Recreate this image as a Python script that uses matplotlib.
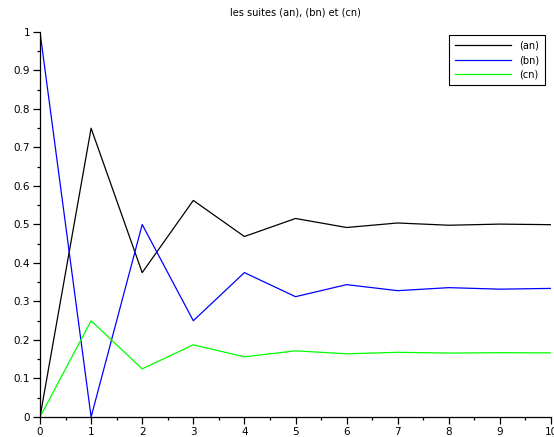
import numpy as np
import matplotlib
matplotlib.use("Agg")
import matplotlib.pyplot as plt
from matplotlib.ticker import MultipleLocator

n = list(range(11))
an = [0, 0.75, 0.375, 0.5625, 0.46875, 0.515625, 0.4921875, 0.50390625,
      0.498046875, 0.5009765625, 0.49951171875]
bn = [1, 0, 0.5, 0.25, 0.375, 0.3125, 0.34375, 0.328125,
      0.3359375, 0.33203125, 0.333984375]
cn = [0, 0.25, 0.125, 0.1875, 0.15625, 0.171875, 0.1640625, 0.16796875,
      0.166015625, 0.1669921875, 0.16650390625]

fig = plt.figure(figsize=(5.54, 4.37), dpi=100)
ax = fig.add_axes([0.0722, 0.0458, 0.9224, 0.881])

ax.plot(n, an, color="black", lw=0.9, label="(an)")
ax.plot(n, bn, color="#0000ff", lw=0.9, label="(bn)")
ax.plot(n, cn, color="#00ff00", lw=0.9, label="(cn)")

ax.set_xlim(0, 10)
ax.set_ylim(0, 1)
ax.xaxis.set_major_locator(MultipleLocator(1))
ax.xaxis.set_minor_locator(MultipleLocator(0.5))
ax.yaxis.set_major_locator(MultipleLocator(0.1))
ax.yaxis.set_minor_locator(MultipleLocator(0.05))
ax.yaxis.set_major_formatter(plt.FuncFormatter(lambda v, p: "%g" % round(v, 2)))

for s in ["top", "right"]:
    ax.spines[s].set_visible(False)
for s in ["left", "bottom"]:
    ax.spines[s].set_linewidth(0.9)
ax.tick_params(which="major", length=5, width=0.9, labelsize=7.5, pad=2)
ax.tick_params(which="minor", length=2.5, width=0.9)

ax.set_title("les suites (an), (bn) et (cn)", fontsize=7, pad=12)

leg = ax.legend(loc="upper right", bbox_to_anchor=(0.988, 0.992), fontsize=7,
                handlelength=5.8, fancybox=False, edgecolor="black",
                framealpha=1, borderpad=0.6, labelspacing=0.45,
                borderaxespad=0)
leg.get_frame().set_linewidth(0.8)

fig.savefig("out.png", dpi=100)
